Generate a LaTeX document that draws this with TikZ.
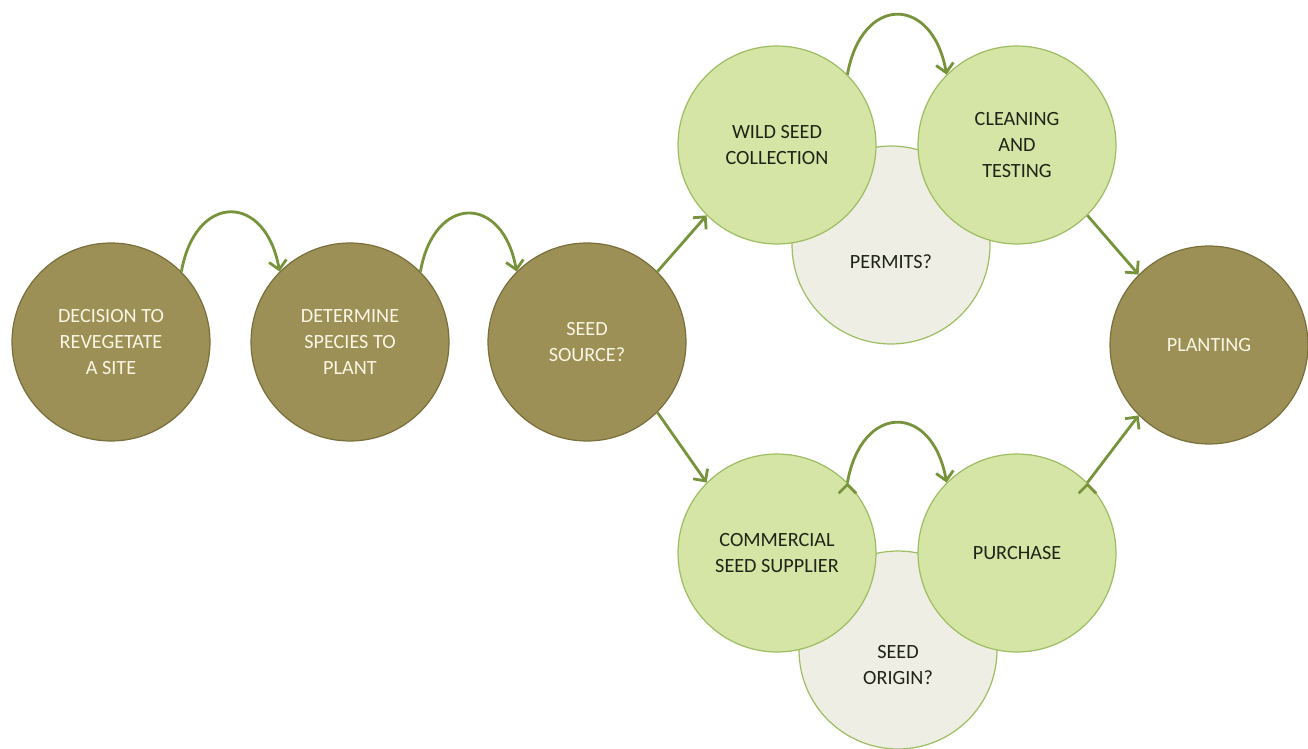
\documentclass[tikz,border=0pt]{standalone}
\usepackage{fontspec}
\setmainfont{Carlito}
\usetikzlibrary{arrows.meta}

\definecolor{oliveFill}{RGB}{156,144,86}
\definecolor{oliveEdge}{RGB}{122,112,60}
\definecolor{leafFill}{RGB}{212,229,166}
\definecolor{leafEdge}{RGB}{158,190,98}
\definecolor{paleFill}{RGB}{238,238,228}
\definecolor{arrowGreen}{RGB}{119,147,60}
\definecolor{creamText}{RGB}{250,246,228}
\definecolor{inkText}{RGB}{32,36,22}

\tikzset{
  stepnode/.style={circle,inner sep=0pt,minimum size=3.96cm,align=center,line width=0.7pt,
    font=\fontsize{11.5}{14.7}\selectfont},
  darkstep/.style={stepnode,fill=oliveFill,draw=oliveEdge,text=creamText},
  lightstep/.style={stepnode,fill=leafFill,draw=leafEdge,text=inkText},
  askstep/.style={stepnode,fill=paleFill,draw=leafEdge,text=inkText},
  flow/.style={-{Straight Barb[length=5pt,width=10pt]},draw=arrowGreen,line width=1.6pt},
}

\begin{document}
\begin{tikzpicture}[x=0.02cm,y=0.02cm]
            \useasboundingbox (0,0) rectangle (1308,748);

            % questions sit behind the steps
            \node[askstep,label={[text=inkText,font=\fontsize{11.5}{14.7}\selectfont,yshift=-0.34cm]center:PERMITS?}] (permits) at (891, 503) {};
            \node[askstep,label={[text=inkText,font=\fontsize{11.5}{14.7}\selectfont,align=center,yshift=-0.30cm]center:SEED\\ORIGIN?}] (origin) at (898, 98) {};

            \node[darkstep] (dec) at (111, 406) {DECISION TO\\REVEGETATE\\A SITE};
            \node[darkstep] (det) at (350, 406) {DETERMINE\\SPECIES TO\\PLANT};
            \node[darkstep] (src) at (587, 406) {SEED\\SOURCE?};
            \node[lightstep] (wild) at (777, 603) {WILD SEED\\COLLECTION};
            \node[lightstep] (clean) at (1017, 603) {CLEANING\\AND\\TESTING};
            \node[lightstep] (comm) at (777, 195) {COMMERCIAL\\SEED SUPPLIER};
            \node[lightstep] (purch) at (1017, 195) {PURCHASE};
            \node[darkstep] (plant) at (1209, 403) {PLANTING};

            \draw[flow] (dec.45) edge[bend left=80,looseness=2.1] (det.135)
            (det.45) edge[bend left=80,looseness=2.1] (src.135)
            (wild.45) edge[bend left=80,looseness=2.1] (clean.135)
            (comm.45) edge[bend left=80,looseness=2.1] (purch.135);

            \draw[flow] (src.45) edge (wild.225)
            (src.-45) edge (comm.135)
            (clean.-45) edge (plant.135)
            (purch.45) edge (plant.-135);
        \end{tikzpicture}
\end{document}
